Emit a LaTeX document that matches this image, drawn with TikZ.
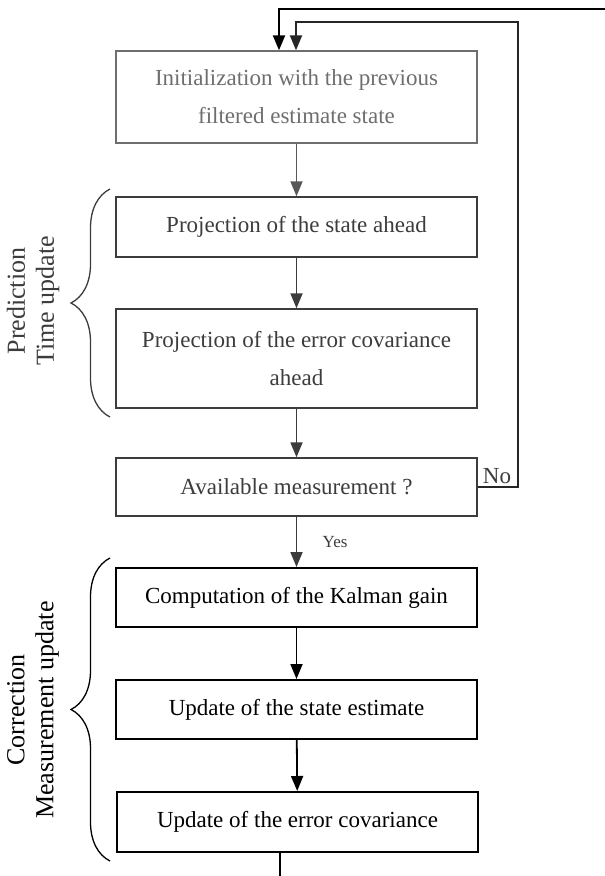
\documentclass[tikz,border=0pt]{standalone}
\usepackage{fontspec}
\setmainfont{Liberation Serif}
\usepackage{xcolor}
\usetikzlibrary{arrows.meta, decorations.pathreplacing, positioning}

\definecolor{initgray}{HTML}{6E6E6E}
\definecolor{predgray}{HTML}{3C3C3C}

\tikzset{
  stepbox/.style={draw, minimum width=361pt, inner sep=0pt, align=center,
    font=\fontsize{23}{38}\selectfont, line width=1.4pt},
  flow/.style={-{Triangle[length=15pt,width=12pt]}, line width=1.8pt},
  bracelab/.style={rotate=90, align=center, font=\fontsize{26}{29}\selectfont},
}

\begin{document}
\begin{tikzpicture}[x=1pt, y=-1pt]
    \useasboundingbox (0,0) rectangle (605,876);

    % Boîtes du filtre
    \node[stepbox, initgray, minimum height=92pt] (init) at (296.5,97)
        {Initialization with the previous\\filtered estimate state};
    \node[stepbox, predgray, minimum height=60pt] (stateahead) at (296.5,227)
        {Projection of the state ahead};
    \node[stepbox, predgray, minimum height=99pt] (covahead) at (296.5,358.5)
        {Projection of the error covariance\\ahead};
    \node[stepbox, predgray, minimum height=58pt] (avail) at (296.5,487)
        {Available measurement ?};
    \node[stepbox, black, line width=2pt, minimum height=59pt] (gain) at (296.5,597.5)
        {Computation of the Kalman gain};
    \node[stepbox, black, line width=2pt, minimum height=59pt] (stateupd) at (296.5,709.5)
        {Update of the state estimate};
    \node[stepbox, black, line width=2pt, minimum height=60pt] (covupd) at (297.5,822)
        {Update of the error covariance};

    % Flèches principales
    \draw[flow, initgray!80!black] (init) -- (stateahead);
    \draw[flow, predgray] (stateahead) -- (covahead);
    \draw[flow, predgray] (covahead) -- (avail);
    \draw[flow, predgray] (avail) -- node[right=22pt, font=\fontsize{17}{19}\selectfont] {Yes} (gain);
    \draw[flow, black] (gain) -- (stateupd);
    \draw[flow, black] (stateupd) -- (covupd);

    % Boucles de retour
    \coordinate (nocorner) at (518,487);
    \coordinate (noturn) at (518,22);
    \coordinate (outtop) at (610,9);
    \coordinate (outend) at (280,880);
    \draw[flow, black!85, line width=2.2pt] (avail.east) -- (nocorner) -- (noturn)
        -| ([xshift=-0.5pt]init.north);
    \draw[flow, black, line width=2.2pt] (outtop) -| ([xshift=-17.5pt]init.north);
    \draw[black, line width=2.2pt] ([xshift=-17.5pt]covupd.south) -- (outend);
    \node[predgray, font=\fontsize{23}{26}\selectfont, anchor=south] (nolab) at (497,487) {No};

    % Accolades
    \draw[predgray, line width=1.3pt, decorate, decoration={brace, amplitude=39pt, aspect=0.5}]
        (110,417) -- (110,189);
    \node[bracelab, predgray] (predlab) at (33,301) {Prediction\\Time update};
    \draw[black, line width=1.3pt, decorate, decoration={brace, amplitude=39pt, aspect=0.5}]
        (110,861) -- (110,558);
    \node[bracelab, black] (corrlab) at (33,710) {Correction\\Measurement update};
\end{tikzpicture}
\end{document}
